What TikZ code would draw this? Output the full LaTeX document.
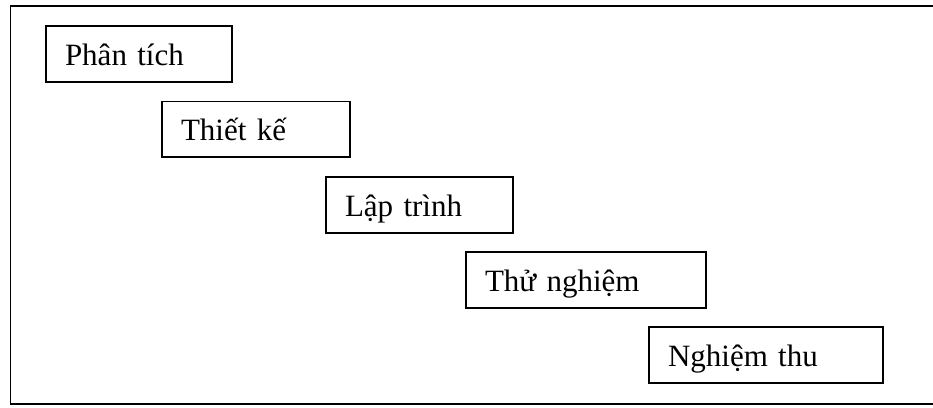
\documentclass[tikz,border=0pt]{standalone}
\usepackage{fontspec}
\setmainfont{Liberation Serif}
\begin{document}
\begin{tikzpicture}[x=1pt,y=-1pt,
  stage/.style={draw, line width=1.5pt, rectangle, inner xsep=19pt, inner ysep=0pt,
    align=left, text height=26pt, text depth=4pt,
    font=\fontsize{31}{36}\selectfont},
  frame/.style={line width=1.6pt}]
\useasboundingbox (0,0) rectangle (933,407);
\draw[frame] (945,6) -- (10.5,6) -- (10.5,404) -- (945,404);
\node[stage, minimum width=186pt, minimum height=56pt, text width=148pt] (a) at (139,54) {Phân tích};
\node[stage, minimum width=188pt, minimum height=55.5pt, text width=150pt] (b) at (256,129) {Thiết kế};
\node[stage, minimum width=187pt, minimum height=56pt, text width=149pt] (c) at (419.5,205) {Lập trình};
\node[stage, minimum width=240pt, minimum height=56pt, text width=202pt] (d) at (586,280) {Thử nghiệm};
\node[stage, minimum width=234pt, minimum height=56pt, text width=196pt] (e) at (766,355) {Nghiệm thu};
\end{tikzpicture}
\end{document}
